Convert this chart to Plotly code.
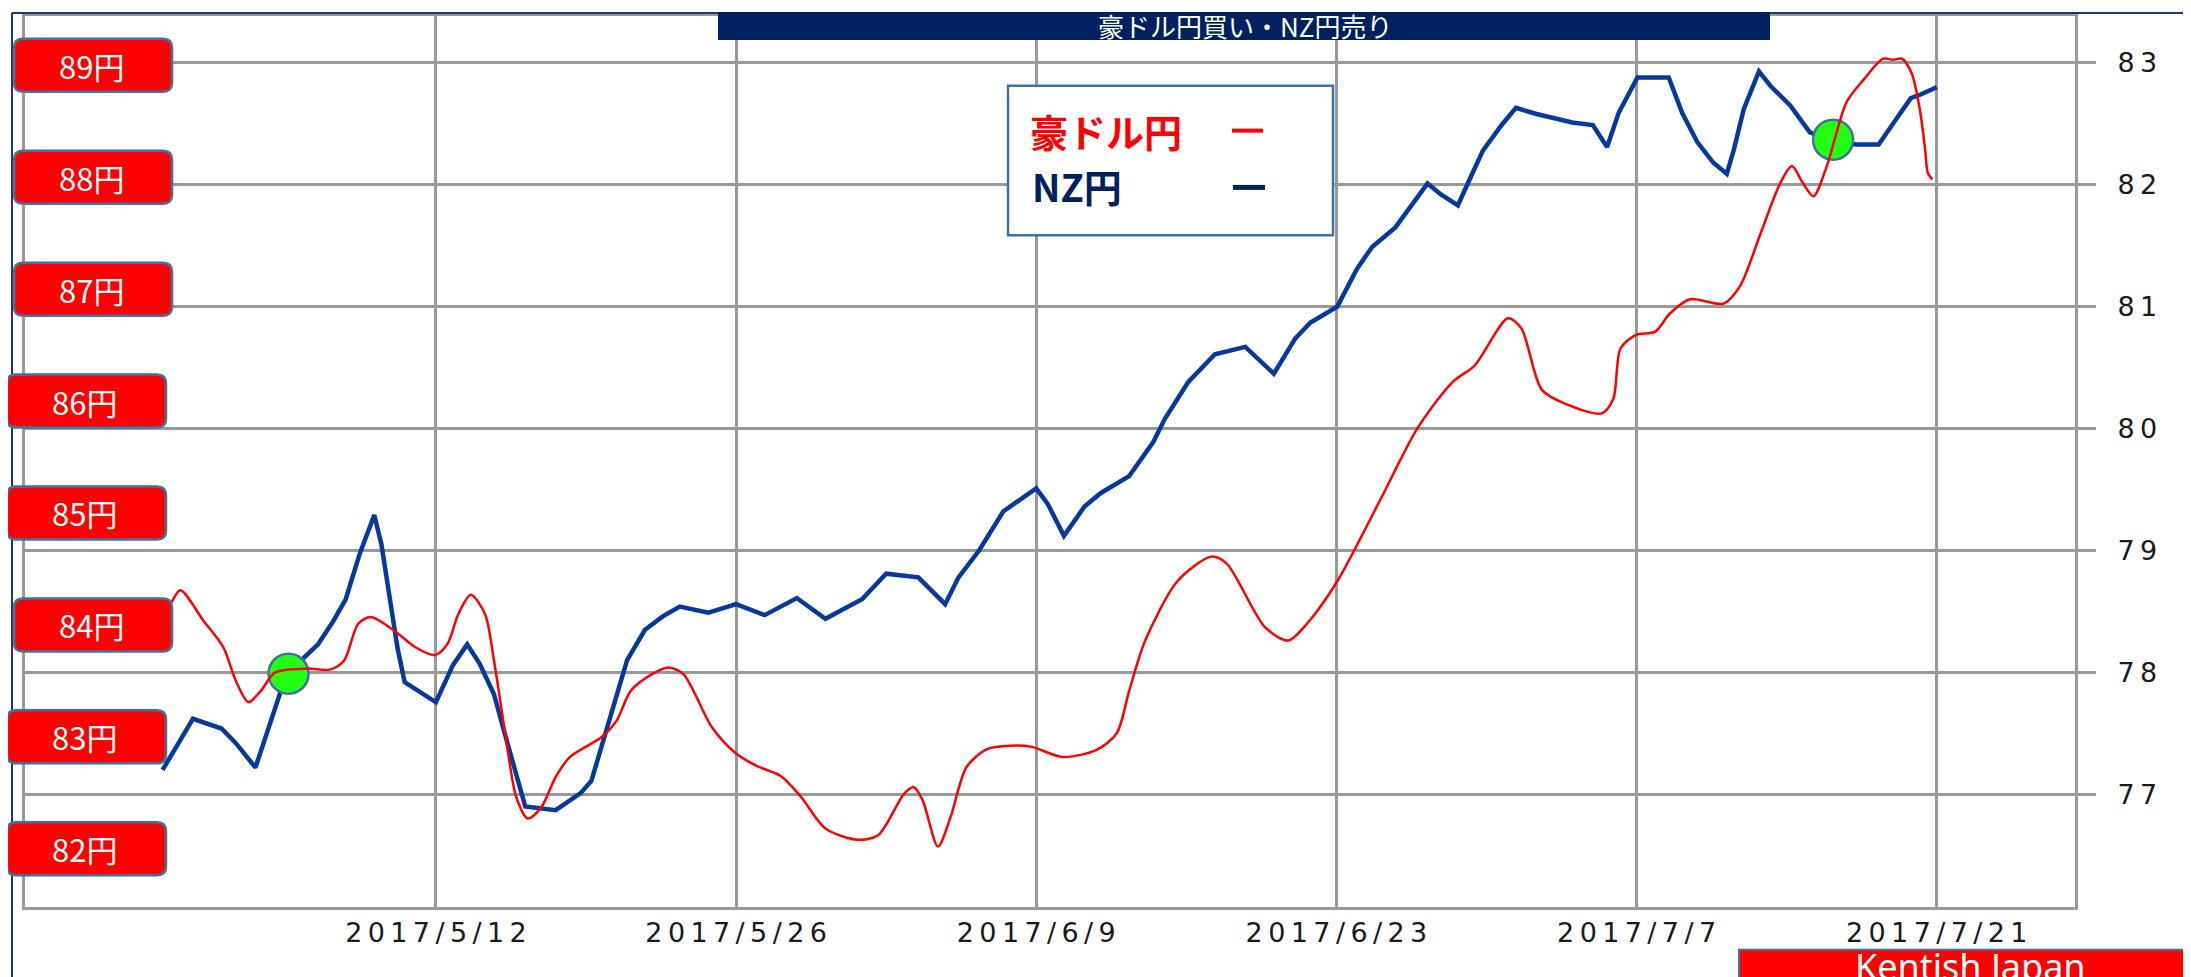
import plotly.graph_objects as go

# ---------------- data ----------------
nz_dates = [
    "2017-04-29 06:00", "2017-04-30 16:00", "2017-05-02 00:00", "2017-05-02 16:00", "2017-05-03 14:00",
    "2017-05-04 04:00", "2017-05-04 18:00", "2017-05-05 03:00", "2017-05-06 00:00", "2017-05-06 12:00",
    "2017-05-07 05:00", "2017-05-07 19:00", "2017-05-08 11:00", "2017-05-09 03:00", "2017-05-09 11:00",
    "2017-05-09 19:00", "2017-05-10 05:00", "2017-05-10 13:00", "2017-05-11 03:00", "2017-05-12 00:00",
    "2017-05-12 19:00", "2017-05-13 11:00", "2017-05-14 01:00", "2017-05-14 17:00", "2017-05-15 05:00",
    "2017-05-15 18:00", "2017-05-16 04:00", "2017-05-17 14:00", "2017-05-18 18:00", "2017-05-19 06:00",
    "2017-05-19 22:00", "2017-05-20 10:00", "2017-05-20 22:00", "2017-05-21 18:00", "2017-05-22 14:00",
    "2017-05-23 09:00", "2017-05-24 17:00", "2017-05-26 00:00", "2017-05-27 08:00", "2017-05-28 20:00",
    "2017-05-30 04:00", "2017-05-31 21:00", "2017-06-02 00:00", "2017-06-03 12:00", "2017-06-04 18:00",
    "2017-06-05 09:00", "2017-06-06 08:00", "2017-06-07 11:00", "2017-06-09 00:00", "2017-06-09 13:00",
    "2017-06-10 07:00", "2017-06-11 06:00", "2017-06-12 00:00", "2017-06-13 08:00", "2017-06-14 11:00",
    "2017-06-15 00:00", "2017-06-16 02:00", "2017-06-17 08:00", "2017-06-18 18:00", "2017-06-20 02:00",
    "2017-06-21 02:00", "2017-06-21 19:00", "2017-06-23 01:00", "2017-06-23 23:00", "2017-06-24 16:00",
    "2017-06-25 18:00", "2017-06-26 19:00", "2017-06-27 06:00", "2017-06-27 21:00", "2017-06-28 16:00",
    "2017-06-29 03:00", "2017-06-29 20:00", "2017-06-30 17:00", "2017-07-01 09:00", "2017-07-02 08:00",
    "2017-07-04 00:00", "2017-07-04 23:00", "2017-07-05 15:00", "2017-07-06 04:00", "2017-07-06 21:00",
    "2017-07-07 01:00", "2017-07-08 12:00", "2017-07-09 03:00", "2017-07-09 20:00", "2017-07-10 14:00",
    "2017-07-11 05:00", "2017-07-11 13:00", "2017-07-12 00:00", "2017-07-12 17:00", "2017-07-13 06:00",
    "2017-07-14 04:00", "2017-07-15 02:00", "2017-07-16 04:00", "2017-07-17 06:00", "2017-07-18 07:00",
    "2017-07-19 00:00", "2017-07-19 19:00", "2017-07-20 06:00", "2017-07-21 00:00",
]
nz_values = [
    77.20, 77.62, 77.54, 77.42, 77.22,
    77.54, 77.84, 78.00, 78.15, 78.23,
    78.42, 78.60, 78.98, 79.29, 79.05,
    78.67, 78.20, 77.92, 77.85, 77.755,
    78.06, 78.23, 78.07, 77.82, 77.50,
    77.17, 76.90, 76.87, 77.01, 77.11,
    77.50, 77.82, 78.10, 78.35, 78.46,
    78.54, 78.49, 78.56, 78.47, 78.61,
    78.44, 78.60, 78.81, 78.78, 78.56,
    78.78, 79.00, 79.32, 79.51, 79.38,
    79.12, 79.36, 79.47, 79.61, 79.89,
    80.08, 80.38, 80.61, 80.67, 80.45,
    80.74, 80.87, 81.00, 81.31, 81.49,
    81.65, 81.91, 82.01, 81.92, 81.83,
    82.01, 82.28, 82.49, 82.63, 82.58,
    82.51, 82.49, 82.31, 82.59, 82.81,
    82.88, 82.88, 82.59, 82.35, 82.18,
    82.09, 82.29, 82.62, 82.93, 82.81,
    82.65, 82.43, 82.36, 82.33, 82.33,
    82.51, 82.71, 82.74, 82.80,
]

aud_dates = [
    "2017-04-29 16:00", "2017-04-30 02:00", "2017-05-01 04:00", "2017-05-02 02:00", "2017-05-02 16:00",
    "2017-05-03 06:00", "2017-05-03 20:00", "2017-05-04 12:00", "2017-05-06 00:00", "2017-05-07 01:00",
    "2017-05-07 17:00", "2017-05-08 09:00", "2017-05-08 23:00", "2017-05-10 01:00", "2017-05-11 01:00",
    "2017-05-11 23:00", "2017-05-12 13:00", "2017-05-13 01:00", "2017-05-13 15:00", "2017-05-14 07:00",
    "2017-05-14 17:00", "2017-05-15 05:00", "2017-05-15 18:00", "2017-05-16 07:00", "2017-05-16 22:00",
    "2017-05-17 14:00", "2017-05-18 06:00", "2017-05-19 18:00", "2017-05-20 10:00", "2017-05-21 02:00",
    "2017-05-22 02:00", "2017-05-22 20:00", "2017-05-23 13:00", "2017-05-24 21:00", "2017-05-26 00:00",
    "2017-05-26 23:00", "2017-05-28 02:00", "2017-05-29 01:00", "2017-05-30 04:00", "2017-05-31 16:00",
    "2017-06-01 15:00", "2017-06-02 20:00", "2017-06-03 07:00", "2017-06-03 17:00", "2017-06-04 10:00",
    "2017-06-05 00:00", "2017-06-05 18:00", "2017-06-06 17:00", "2017-06-07 20:00", "2017-06-08 19:00",
    "2017-06-10 05:00", "2017-06-11 19:00", "2017-06-12 18:00", "2017-06-13 08:00", "2017-06-14 02:00",
    "2017-06-15 14:00", "2017-06-17 04:00", "2017-06-17 21:00", "2017-06-19 16:00", "2017-06-20 18:00",
    "2017-06-21 15:00", "2017-06-23 01:00", "2017-06-25 00:00", "2017-06-26 19:00", "2017-06-28 10:00",
    "2017-06-29 11:00", "2017-07-01 00:00", "2017-07-01 15:00", "2017-07-02 14:00", "2017-07-03 18:00",
    "2017-07-05 09:00", "2017-07-05 22:00", "2017-07-06 06:00", "2017-07-06 23:00", "2017-07-07 21:00",
    "2017-07-08 13:00", "2017-07-09 12:00", "2017-07-11 01:00", "2017-07-11 20:00", "2017-07-12 18:00",
    "2017-07-13 17:00", "2017-07-14 06:00", "2017-07-14 18:00", "2017-07-15 06:00", "2017-07-15 21:00",
    "2017-07-16 19:00", "2017-07-17 14:00", "2017-07-18 12:00", "2017-07-18 23:00", "2017-07-19 09:00",
    "2017-07-19 20:00", "2017-07-20 05:00", "2017-07-20 11:00", "2017-07-20 14:00", "2017-07-20 19:00",
]
aud_values = [
    84.20, 84.31, 84.035, 83.80, 83.50,
    83.31, 83.41, 83.575, 83.61, 83.60,
    83.68, 84.01, 84.07, 83.95, 83.80,
    83.73, 83.83, 84.095, 84.27, 84.095,
    83.68, 83.06, 82.46, 82.27, 82.37,
    82.64, 82.82, 83.00, 83.14, 83.41,
    83.56, 83.62, 83.56, 83.085, 82.85,
    82.74, 82.65, 82.46, 82.18, 82.08,
    82.12, 82.49, 82.55, 82.43, 82.02,
    82.28, 82.73, 82.89, 82.92, 82.91,
    82.82, 82.88, 83.03, 83.41, 83.86,
    84.39, 84.61, 84.55, 83.98, 83.86,
    84.01, 84.39, 85.10, 85.76, 86.17,
    86.32, 86.74, 86.65, 86.10, 85.97,
    85.89, 86.02, 86.47, 86.59, 86.62,
    86.78, 86.91, 86.87, 87.03, 87.48,
    87.95, 88.10, 87.95, 87.83, 88.10,
    88.67, 88.87, 89.06, 89.05, 89.06,
    88.93, 88.61, 88.25, 88.04, 87.98,
]

signal_dates = ["2017-05-05 03:00", "2017-07-16 04:00"]
signal_values = [77.99, 82.37]

x_tick_dates = ["2017-05-12", "2017-05-26", "2017-06-09", "2017-06-23", "2017-07-07", "2017-07-21"]
x_tick_labels = ["2017/5/12", "2017/5/26", "2017/6/9", "2017/6/23", "2017/7/7", "2017/7/21"]
nz_tick_values = [77, 78, 79, 80, 81, 82, 83]
aud_label_values = [89, 88, 87, 86, 85, 84, 83, 82]
aud_label_texts = ["89円", "88円", "87円", "86円", "85円", "84円", "83円", "82円"]

title_text = "豪ドル円買い・NZ円売り"
legend_aud = "豪ドル円"
legend_nz = "NZ円"
credit_text = "Kentish Japan"

# ---------------- layout constants ----------------
# the page body has an 8px margin, so the figure is shifted by 8px
OFF = 8
PAGE_W, PAGE_H = 2191, 977
PL, PT, PR, PB = 25, 13, 2075, 907          # plot area in page pixels
W, H = PAGE_W - OFF, PAGE_H - OFF
ML, MT = PL - OFF, PT - OFF
MR, MB = W - (PR - OFF), H - (PB - OFF)
PW, PH = PR - PL, PB - PT


def px_x(p):
    return (p - PL) / PW


def px_y(p):
    return (PB - p) / PH


def spaced(s):
    return "\u2009".join(s)


GRID = "#999999"
NAVY = "#002060"
BLUE = "#07399c"
STEEL = "#41719c"

fig = go.Figure()

fig.add_trace(go.Scatter(
    x=nz_dates, y=nz_values, mode="lines", yaxis="y",
    line=dict(color=BLUE, width=4.5), showlegend=False, hoverinfo="skip"))

fig.add_trace(go.Scatter(
    x=aud_dates, y=aud_values, mode="lines", yaxis="y2",
    line=dict(color="#ff0000", width=2.5, shape="spline", smoothing=0.8),
    showlegend=False, hoverinfo="skip"))

fig.add_trace(go.Scatter(
    x=signal_dates, y=signal_values, mode="markers", yaxis="y",
    marker=dict(size=40, color="#22ff14", line=dict(color=STEEL, width=2.5)),
    showlegend=False, hoverinfo="skip"))

shapes = []
annotations = []

# outer navy frame lines
shapes.append(dict(type="line", xref="paper", yref="paper",
                   x0=px_x(12), x1=px_x(12), y0=px_y(10), y1=px_y(990),
                   line=dict(color="#1f3864", width=2)))
shapes.append(dict(type="line", xref="paper", yref="paper",
                   x0=px_x(12), x1=px_x(2200), y0=px_y(10), y1=px_y(10),
                   line=dict(color="#1f3864", width=2)))

# title banner
shapes.append(dict(type="rect", xref="paper", yref="paper",
                   x0=px_x(718), x1=px_x(1770), y0=px_y(37), y1=px_y(9),
                   fillcolor=NAVY, line=dict(width=0), layer="above"))
annotations.append(dict(xref="paper", yref="paper", x=px_x(1245), y=px_y(23),
                        text=title_text, showarrow=False, xanchor="center", yanchor="middle",
                        font=dict(family="Noto Sans CJK JP", size=26, color="white")))

# legend box
shapes.append(dict(type="rect", xref="paper", yref="paper",
                   x0=px_x(1008), x1=px_x(1333), y0=px_y(233), y1=px_y(83),
                   fillcolor="white", line=dict(color=STEEL, width=2.5), layer="above"))
annotations.append(dict(xref="paper", yref="paper", x=px_x(1028), y=px_y(128),
                        text=legend_aud, showarrow=False, xanchor="left", yanchor="middle",
                        font=dict(family="Noto Sans CJK JP", size=38, color="#ff0000", weight=700)))
annotations.append(dict(xref="paper", yref="paper", x=px_x(1030), y=px_y(183),
                        text=legend_nz, showarrow=False, xanchor="left", yanchor="middle",
                        font=dict(family="Noto Sans CJK JP", size=38, color=NAVY, weight=700)))
shapes.append(dict(type="line", xref="paper", yref="paper",
                   x0=px_x(1232), x1=px_x(1263), y0=px_y(128), y1=px_y(128),
                   line=dict(color="#ff0000", width=4), layer="above"))
shapes.append(dict(type="line", xref="paper", yref="paper",
                   x0=px_x(1233), x1=px_x(1265), y0=px_y(185), y1=px_y(185),
                   line=dict(color=NAVY, width=5), layer="above"))

# red price labels on the left (rounded boxes)
box_x = [(14, 172), (14, 172), (14, 172), (7, 166), (7, 166), (14, 172), (7, 166), (7, 166)]
half_h = 26.5
r = 9
for v, t, (bx0, bx1) in zip(aud_label_values, aud_label_texts, box_x):
    x0, x1 = bx0 - PL, bx1 - PL
    y0, y1 = -half_h, half_h
    path = (f"M {x0 + r},{y0} L {x1 - r},{y0} Q {x1},{y0} {x1},{y0 + r} "
            f"L {x1},{y1 - r} Q {x1},{y1} {x1 - r},{y1} L {x0 + r},{y1} "
            f"Q {x0},{y1} {x0},{y1 - r} L {x0},{y0 + r} Q {x0},{y0} {x0 + r},{y0} Z")
    shapes.append(dict(type="path", xref="paper", yref="y2",
                       xsizemode="pixel", ysizemode="pixel", xanchor=0, yanchor=v,
                       path=path, fillcolor="#ff0000",
                       line=dict(color=STEEL, width=2.5), layer="above"))
    annotations.append(dict(xref="paper", yref="y2", x=px_x((bx0 + bx1) / 2 - 2), y=v,
                            text=t, showarrow=False, xanchor="center", yanchor="middle",
                            font=dict(family="Noto Sans CJK JP", size=31, color="white")))

# credit box
shapes.append(dict(type="rect", xref="paper", yref="paper",
                   x0=px_x(1739), x1=px_x(2200), y0=px_y(990), y1=px_y(950),
                   fillcolor="#ff0000", line=dict(color=STEEL, width=2), layer="above"))
annotations.append(dict(xref="paper", yref="paper", x=px_x(1970), y=px_y(940),
                        text=credit_text, showarrow=False, xanchor="center", yanchor="top",
                        font=dict(family="Noto Sans", size=36, color="white")))

fig.update_layout(
    width=W, height=H, autosize=False,
    margin=dict(l=ML, r=MR, t=MT, b=MB, pad=0),
    paper_bgcolor="white", plot_bgcolor="white",
    showlegend=False,
    xaxis=dict(
        type="date",
        range=["2017-04-22 20:00", "2017-07-27 10:48"],
        tickmode="array", tickvals=x_tick_dates,
        ticktext=[spaced(s) for s in x_tick_labels],
        tickfont=dict(family="DejaVu Sans", size=27, color="#1a1a1a"),
        showgrid=True, gridcolor=GRID, gridwidth=2.5,
        showline=True, linecolor=GRID, linewidth=3, mirror=True,
        ticks="", zeroline=False, fixedrange=True,
    ),
    yaxis=dict(
        side="right",
        range=[76.076, 83.384],
        tickmode="array", tickvals=nz_tick_values,
        ticktext=[spaced(str(v)) for v in nz_tick_values],
        tickfont=dict(family="DejaVu Sans", size=27, color="#1a1a1a"),
        showgrid=True, gridcolor=GRID, gridwidth=2.5,
        showline=True, linecolor=GRID, linewidth=3, mirror=True,
        ticks="outside", ticklen=18, tickwidth=2.5, tickcolor=GRID,
        ticklabelstandoff=16, zeroline=False, fixedrange=True,
    ),
    yaxis2=dict(
        overlaying="y", side="left",
        range=[81.479, 89.441],
        showgrid=False, showticklabels=False, showline=False,
        zeroline=False, ticks="", fixedrange=True,
    ),
    shapes=shapes,
    annotations=annotations,
)

fig.write_html("out.html")
